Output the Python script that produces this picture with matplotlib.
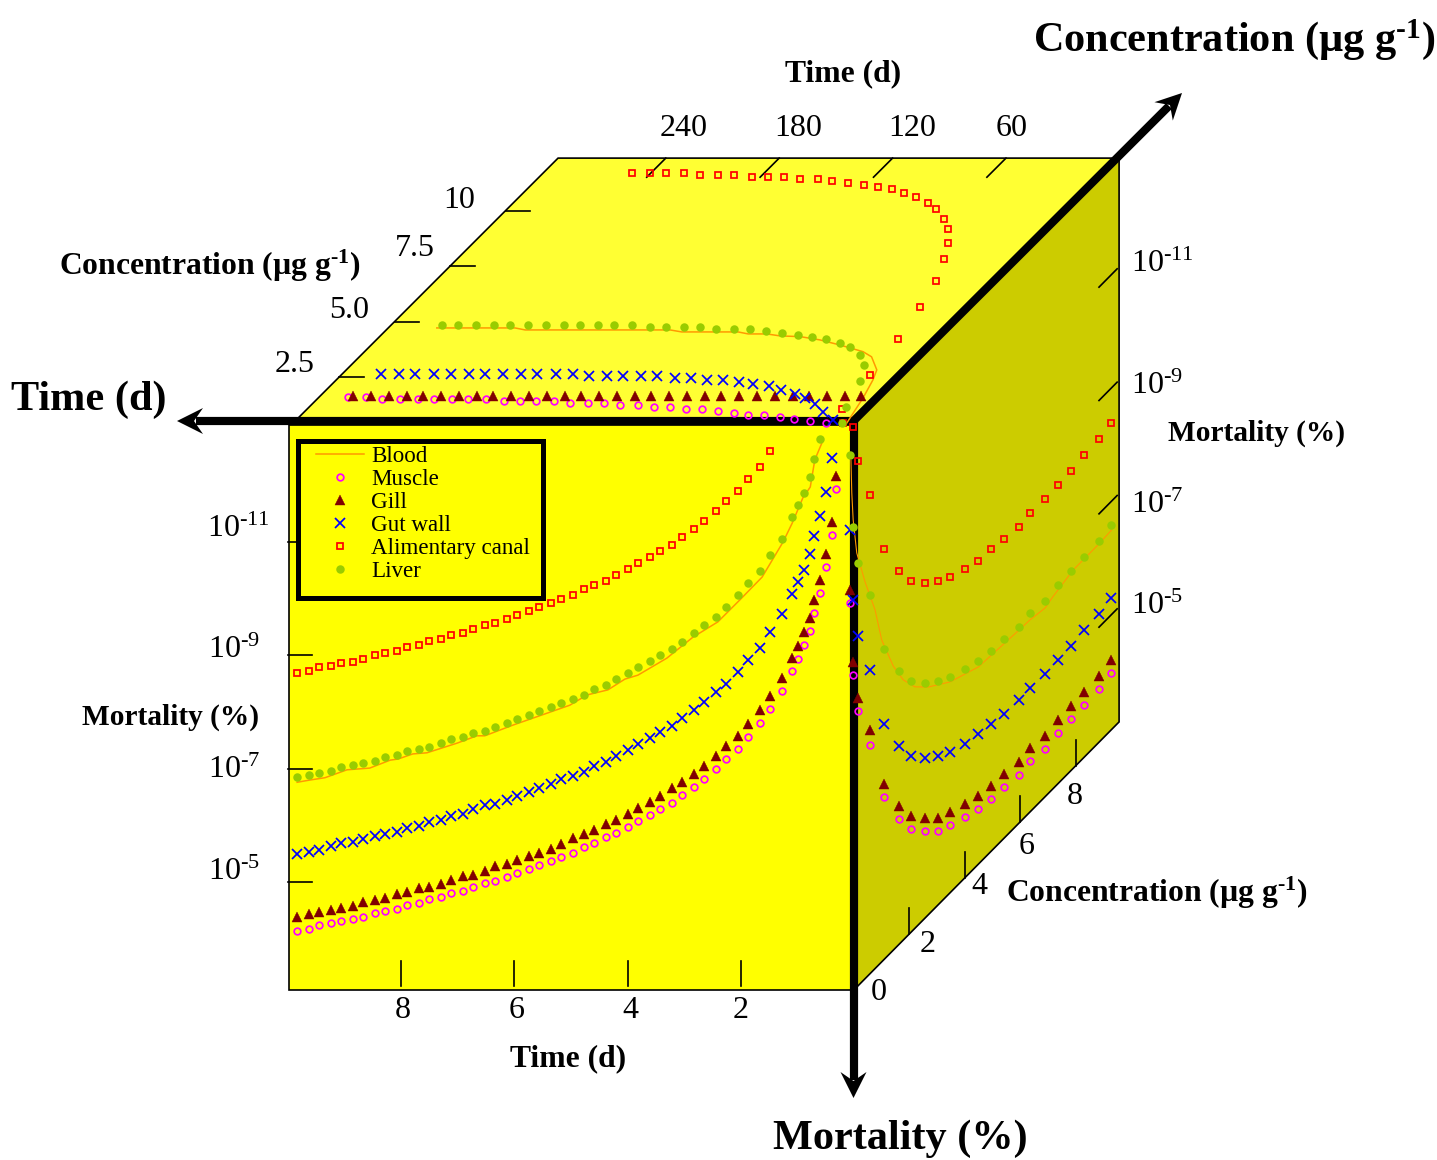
import matplotlib
matplotlib.use("Agg")
import matplotlib.pyplot as plt
from matplotlib.patches import Polygon, Rectangle
from matplotlib.transforms import Affine2D

plt.rcParams["font.family"] = ["Liberation Serif", "DejaVu Serif"]
plt.rcParams["mathtext.fontset"] = "custom"
plt.rcParams["mathtext.rm"] = "Liberation Serif"
plt.rcParams["mathtext.bf"] = "Liberation Serif:bold"
plt.rcParams["mathtext.default"] = "regular"

# front face: time (d) against log10 mortality
front_time = [9.83, 9.62, 9.44, 9.23, 9.06, 8.84, 8.67, 8.46, 8.28, 8.07, 7.89, 7.68, 7.50, 7.29,
              7.12, 6.90, 6.73, 6.52, 6.34, 6.13, 5.95, 5.74, 5.56, 5.35, 5.18, 4.96, 4.77, 4.59,
              4.38, 4.21, 3.99, 3.82, 3.61, 3.43, 3.22, 3.04, 2.83, 2.65, 2.44, 2.27, 2.05, 1.88,
              1.67, 1.49, 1.28, 1.10, 1.00, 0.89, 0.78, 0.71, 0.61, 0.50, 0.40, 0.33]
front_muscle = [-4.14, -4.17, -4.24, -4.28, -4.31, -4.35, -4.38, -4.45, -4.49, -4.52, -4.59, -4.63,
                -4.70, -4.73, -4.81, -4.84, -4.91, -4.98, -5.02, -5.09, -5.16, -5.23, -5.30, -5.37,
                -5.44, -5.51, -5.62, -5.69, -5.79, -5.86, -5.97, -6.08, -6.18, -6.29, -6.39, -6.54,
                -6.68, -6.82, -7.00, -7.17, -7.35, -7.56, -7.81, -8.05, -8.37, -8.72, -8.93, -9.18,
                -9.43, -9.75, -10.10, -10.56, -11.12, -11.93]
front_gill = [-4.39, -4.43, -4.47, -4.50, -4.54, -4.57, -4.64, -4.68, -4.71, -4.78, -4.82, -4.89,
              -4.92, -4.96, -5.03, -5.10, -5.13, -5.20, -5.28, -5.31, -5.38, -5.45, -5.52, -5.59,
              -5.67, -5.77, -5.85, -5.92, -6.02, -6.09, -6.20, -6.31, -6.41, -6.52, -6.66, -6.76,
              -6.91, -7.05, -7.22, -7.40, -7.58, -7.79, -8.04, -8.28, -8.60, -8.95, -9.16, -9.41,
              -9.66, -9.98, -10.33, -10.79, -11.35, -12.16]
front_gut = [-5.50, -5.53, -5.57, -5.64, -5.68, -5.71, -5.75, -5.82, -5.85, -5.89, -5.96, -5.99,
             -6.06, -6.10, -6.17, -6.20, -6.28, -6.35, -6.38, -6.45, -6.52, -6.59, -6.66, -6.73,
             -6.81, -6.87, -6.94, -7.05, -7.12, -7.22, -7.33, -7.44, -7.54, -7.65, -7.75, -7.89,
             -8.04, -8.18, -8.35, -8.49, -8.71, -8.92, -9.13, -9.41, -9.73, -10.08, -10.29, -10.51,
             -10.79, -11.11, -11.46, -11.88, -12.48]
front_canal = [-8.68, -8.72, -8.79, -8.82, -8.86, -8.89, -8.94, -9.00, -9.04, -9.08, -9.15, -9.18,
               -9.25, -9.29, -9.36, -9.39, -9.46, -9.54, -9.57, -9.64, -9.71, -9.78, -9.85, -9.92,
               -9.99, -10.06, -10.17, -10.24, -10.31, -10.42, -10.52, -10.63, -10.73, -10.84,
               -10.95, -11.09, -11.23, -11.37, -11.55, -11.72, -11.90, -12.11, -12.32, -12.61]
front_liver = [-6.85, -6.89, -6.92, -6.96, -7.03, -7.06, -7.10, -7.13, -7.20, -7.24, -7.31, -7.34,
               -7.38, -7.45, -7.52, -7.56, -7.63, -7.66, -7.73, -7.80, -7.87, -7.95, -8.02, -8.09,
               -8.16, -8.23, -8.30, -8.41, -8.48, -8.58, -8.69, -8.79, -8.90, -9.01, -9.11, -9.23,
               -9.39, -9.54, -9.68, -9.85, -10.06, -10.28, -10.49, -10.77, -11.05, -11.44, -11.65,
               -11.86, -12.14, -12.46, -12.81]
front_blood_time = [9.83, 9.60, 9.34, 8.95, 8.55, 8.19, 8.05, 7.79, 7.54, 7.01, 6.66, 6.52, 6.02,
                    5.02, 4.72, 4.35, 4.05, 3.82, 3.31, 2.85, 2.41, 2.02, 1.63, 1.26, 1.10, 0.91,
                    0.78, 0.70, 0.57]
front_blood = [-6.76, -6.80, -6.84, -6.98, -7.01, -7.15, -7.17, -7.26, -7.28, -7.45, -7.58, -7.58,
               -7.77, -8.12, -8.30, -8.39, -8.58, -8.65, -8.95, -9.32, -9.59, -9.98, -10.38,
               -11.00, -11.33, -11.78, -11.97, -12.45, -12.76]

# right face: concentration against log10 mortality
right_conc = [-0.13, -0.05, 0.16, 0.59, 1.10, 1.61, 2.04, 2.55, 3.05, 3.48, 3.99, 4.49, 4.93, 5.43,
              5.94, 6.37, 6.88, 7.38, 7.82, 8.32, 8.83, 9.26]
right_muscle = [-9.81, -8.50, -7.76, -6.95, -5.78, -5.14, -4.75, -4.46, -4.22, -4.11, -4.00, -3.89,
                -3.85, -3.82, -3.78, -3.81, -3.77, -3.81, -3.84, -3.84, -3.87, -3.94]
right_gill = [-10.04, -8.73, -7.99, -7.21, -6.01, -5.37, -4.98, -4.69, -4.45, -4.34, -4.23, -4.12,
              -4.08, -4.05, -4.01, -4.04, -4.00, -4.04, -4.07, -4.07, -4.10, -4.17]
right_gut = [-11.10, -9.82, -9.09, -8.27, -7.07, -6.43, -6.04, -5.75, -5.54, -5.40, -5.29, -5.22,
             -5.18, -5.11, -5.10, -5.10, -5.09, -5.09, -5.12, -5.16, -5.19, -5.26]
right_canal = [-12.88, -12.17, -11.36, -10.16, -9.52, -9.13, -8.84, -8.63, -8.49, -8.38, -8.27,
               -8.26, -8.19, -8.15, -8.19, -8.18, -8.18, -8.21, -8.25, -8.28, -8.35]
right_liver = [-12.42, -11.11, -10.37, -9.60, -8.39, -7.75, -7.36, -7.08, -6.86, -6.72, -6.61, -6.50,
               -6.46, -6.43, -6.39, -6.42, -6.38, -6.42, -6.45, -6.45, -6.48, -6.55]
right_blood_conc = [-0.11, -0.08, -0.03, 0.10, 0.40, 0.76, 1.00, 1.42, 1.78, 2.20, 2.68, 3.47, 4.49,
                    5.87, 6.35, 6.90, 7.18, 7.91, 8.81, 9.30]
right_blood = [-12.32, -11.73, -11.23, -10.58, -9.92, -9.25, -8.60, -7.93, -7.51, -7.18, -6.94,
               -6.64, -6.40, -6.33, -6.31, -6.25, -6.31, -6.42, -6.42, -6.44]

# top face: time (d) against concentration
top_muscle_time = [281.7, 272.2, 262.7, 253.2, 243.7, 235.2, 225.7, 217.2, 207.7, 197.1, 188.6, 180.2,
                   170.6, 161.1, 151.6, 143.1, 133.6, 124.1, 114.6, 106.1, 96.6, 88.1, 78.6, 69.0,
                   60.6, 52.1, 42.6, 34.1, 24.6, 15.1]
top_muscle = [1.60, 1.60, 1.51, 1.51, 1.51, 1.51, 1.51, 1.51, 1.51, 1.42, 1.42, 1.42, 1.42, 1.33, 1.33,
              1.33, 1.24, 1.24, 1.15, 1.15, 1.06, 1.06, 0.97, 0.88, 0.79, 0.79, 0.70, 0.61, 0.52, 0.43]
top_gill_time = [279.5, 269.9, 260.4, 250.9, 242.4, 232.9, 223.4, 213.9, 205.4, 195.9, 186.3, 176.8,
                 167.3, 158.8, 149.3, 139.8, 130.3, 121.8, 112.3, 102.8, 93.2, 84.8, 75.2, 65.7,
                 56.2, 46.7, 38.2, 28.7, 19.2, 10.7]
top_gill = [1.64] * 30
top_gut_time = [276.5, 266.9, 258.5, 248.6, 239.4, 229.9, 221.4, 211.9, 202.4, 193.9, 184.0, 174.7,
                165.2, 155.8, 147.4, 137.8, 129.4, 118.8, 110.3, 100.8, 92.3, 82.8, 74.3, 64.8,
                56.3, 46.8, 39.4, 31.0, 22.5, 13.0]
top_gut = [2.64, 2.64, 2.64, 2.64, 2.64, 2.64, 2.64, 2.64, 2.64, 2.64, 2.64, 2.64, 2.55, 2.55, 2.55,
           2.55, 2.55, 2.45, 2.45, 2.36, 2.36, 2.27, 2.18, 2.09, 1.91, 1.73, 1.55, 1.28, 0.92, 0.56]
top_canal_time = [250.0, 240.5, 232.0, 222.5, 213.0, 203.4, 195.0, 184.4, 175.9, 167.5, 157.9, 148.4,
                  139.9, 130.4, 120.9, 112.4, 104.0, 95.5, 87.0, 77.5, 70.1, 60.6, 53.2, 45.8,
                  39.4, 32.0, 26.7, 21.4, 17.2, 14.0, 6.1]
top_canal = [11.69, 11.69, 11.69, 11.69, 11.60, 11.60, 11.60, 11.51, 11.51, 11.51, 11.42, 11.42, 11.33,
             11.24, 11.15, 11.06, 10.97, 10.79, 10.61, 10.34, 10.07, 9.62, 9.17, 8.54, 7.82, 6.82,
             5.65, 4.21, 2.59, 1.06, 0.43]
top_liver_time = [269.9, 261.5, 252.0, 242.6, 234.0, 224.4, 214.9, 205.4, 196.9, 187.4, 178.9, 169.4,
                  158.8, 150.4, 140.8, 132.4, 122.9, 113.3, 104.9, 95.3, 85.8, 76.3, 67.8, 59.4,
                  49.8, 42.4, 32.9, 25.5, 19.2, 12.8, 6.5]
top_liver = [4.84, 4.84, 4.84, 4.84, 4.84, 4.84, 4.84, 4.84, 4.84, 4.84, 4.84, 4.84, 4.75, 4.75, 4.75,
             4.75, 4.66, 4.66, 4.66, 4.57, 4.48, 4.39, 4.30, 4.21, 4.03, 3.85, 3.49, 3.04, 2.32, 1.15,
             0.43]
top_blood_time = [271.3, 229.9, 223.5, 183.9, 146.8, 139.6, 109.8, 103.4, 93.5, 85.4, 74.5, 62.2, 48.9,
                  33.2, 26.0, 16.3, 13.0, 8.7, 4.1]
top_blood = [4.71, 4.71, 4.62, 4.62, 4.62, 4.53, 4.53, 4.44, 4.44, 4.35, 4.32, 4.17, 3.94, 3.64, 3.41,
             2.82, 2.36, 1.55, 0.43]

front_time_ticks = [8, 6, 4, 2]
front_mort_ticks = [-11, -9, -7, -5]
right_conc_ticks = [2, 4, 6, 8]
right_mort_ticks = [-11, -9, -7, -5]
top_time_ticks = [240, 180, 120, 60]
top_conc_ticks = [2.5, 5.0, 7.5, 10]

fig = plt.figure(figsize=(14.37, 11.6), dpi=100)
ax = fig.add_axes([0, 0, 1, 1])
ax.set_axis_off()

# each cube face has its own scale into the page
front = Affine2D.from_values(-56.7, 0, 0, 56.67, 854.5, 1165.35) + ax.transData
top = Affine2D.from_values(-1.89, 0, 22.2, -22.2, 845, 432.5) + ax.transData
right = Affine2D.from_values(27.7, -28, 0, 56.67, 854, 1155.35) + ax.transData

edge = 1.2
ax.add_patch(Polygon([(297, 0.56), (297, 12.36), (0, 12.36), (0.8, 0.56)], transform=top,
                     facecolor="#FFFF33", edgecolor="black", lw=edge, zorder=1))
ax.add_patch(Polygon([(0, -12.96), (9.57, -12.87), (9.57, -2.92), (0, -2.92)], transform=right,
                     facecolor="#CCCC00", edgecolor="black", lw=edge, zorder=1))
ax.add_patch(Polygon([(9.97, -13.06), (0, -13.06), (0, -3.09), (9.97, -3.09)], transform=front,
                     facecolor="#FFFF00", edgecolor="black", lw=edge, zorder=1))

# ticks
tick_lw = 1.2
for t in front_time_ticks:
    ax.plot([t, t], [-3.6, -3.16], color="black", lw=tick_lw, transform=front, zorder=2)
for e in front_mort_ticks:
    ax.plot([10.0, 9.56], [e, e], color="black", lw=tick_lw, transform=front, zorder=2)
for c in right_conc_ticks:
    ax.plot([c, c], [-2.92, -3.38], color="black", lw=tick_lw, transform=right, zorder=2)
for e in right_mort_ticks:
    ax.plot([8.845, 9.5], [e + 0.05, e + 0.05], color="black", lw=tick_lw, transform=right, zorder=2)
for t in top_time_ticks:
    ax.plot([t, t], [12.36, 11.5], color="black", lw=tick_lw, transform=top, zorder=2)
for c in top_conc_ticks:
    ax.plot([297, 284], [c, c], color="black", lw=tick_lw, transform=top, zorder=2)

# thick cube axes, with a swept arrow head rotated onto each tip
head = [(0, 0), (-26, 13), (-17, 0), (-26, -13)]
for tip, angle, neck in [((177, 421), 180, (196, 421)), ((1182, 93), -45, (1169, 106)),
                         ((853.5, 1098), 90, (853.5, 1080))]:
    ax.plot([853.5, neck[0]], [421, neck[1]], color="black", lw=5.9, solid_capstyle="butt", zorder=2.5)
    ax.add_patch(Polygon(head, facecolor="black", edgecolor="none", zorder=2.5,
                         transform=Affine2D().rotate_deg(angle).translate(*tip) + ax.transData))

# series styles
muscle_style = dict(ls="none", marker="o", ms=4.8, mfc="none", mec="#FF00FF", mew=1.25)
gill_style = dict(ls="none", marker="^", ms=7.6, mfc="#800000", mec="#800000", mew=0.3)
gut_style = dict(ls="none", marker="x", ms=7.0, mec="#0000FF", mew=1.25)
canal_style = dict(ls="none", marker="s", ms=4.7, mfc="none", mec="#FF0000", mew=1.25)
liver_style = dict(ls="none", marker="o", ms=6.1, mfc="#99CC00", mec="#99CC00", mew=0)
blood_color = "#FF9900"

ax.plot(top_blood_time, top_blood, color=blood_color, lw=1.1, transform=top, zorder=3)
ax.plot(top_muscle_time, top_muscle, transform=top, zorder=3, **muscle_style)
ax.plot(top_gill_time, top_gill, transform=top, zorder=3, **gill_style)
ax.plot(top_gut_time, top_gut, transform=top, zorder=3, **gut_style)
ax.plot(top_canal_time, top_canal, transform=top, zorder=3, **canal_style)
ax.plot(top_liver_time, top_liver, transform=top, zorder=3, **liver_style)

ax.plot(right_blood_conc, right_blood, color=blood_color, lw=0.8, transform=right, zorder=3)
ax.plot(right_conc, right_muscle, transform=right, zorder=3, **muscle_style)
ax.plot(right_conc, right_gill, transform=right, zorder=3, **gill_style)
ax.plot(right_conc, right_gut, transform=right, zorder=3, **gut_style)
ax.plot(right_conc[1:], right_canal, transform=right, zorder=3, **canal_style)
ax.plot(right_conc, right_liver, transform=right, zorder=3, **liver_style)

blood_line, = ax.plot(front_blood_time, front_blood, color=blood_color, lw=1.1, transform=front,
                      zorder=3, label="Blood")
muscle_pts, = ax.plot(front_time, front_muscle, transform=front, zorder=3, label="Muscle", **muscle_style)
gill_pts, = ax.plot(front_time, front_gill, transform=front, zorder=3, label="Gill", **gill_style)
gut_pts, = ax.plot(front_time[:len(front_gut)], front_gut, transform=front, zorder=3,
                   label="Gut wall", **gut_style)
canal_pts, = ax.plot(front_time[:len(front_canal)], front_canal, transform=front, zorder=3,
                     label="Alimentary canal", **canal_style)
liver_pts, = ax.plot(front_time[:len(front_liver)], front_liver, transform=front, zorder=3,
                     label="Liver", **liver_style)

ax.set_xlim(0, 1437)
ax.set_ylim(1160, 0)

# the box is taller than the rows need, so it is drawn by hand
ax.add_patch(Rectangle((297.5, 440.5), 245, 157, facecolor="#FFFF00", edgecolor="black", lw=3.6, zorder=3.5))
leg = ax.legend(handles=[blood_line, muscle_pts, gill_pts, gut_pts, canal_pts, liver_pts],
                loc="upper left", bbox_to_anchor=(316, 446), bbox_transform=ax.transData,
                fontsize=16.6, frameon=False, borderaxespad=0, borderpad=0, labelspacing=0.08,
                handlelength=2.1, handletextpad=0.3, numpoints=1)
leg.set_zorder(4)

big = 30.4
small_bold = 22.8
mort_bold = 21.2
num = 23


def label(x, y, s, size=num, weight="normal"):
    ax.text(x, y + 3, s, fontsize=size, fontweight=weight, ha="center", va="center", zorder=5)


conc_label = "Concentration (µg g$^{\\mathbf{\u20101}}$)"
label(89, 397, "Time (d)", big, "bold")
label(1234, 37, conc_label, big, "bold")
label(900, 1136, "Mortality (%)", big, "bold")
label(843, 71, "Time (d)", small_bold, "bold")
label(210, 263, conc_label, small_bold, "bold")
label(171, 714, "Mortality (%)", mort_bold, "bold")
label(568, 1056, "Time (d)", small_bold, "bold")
label(1157, 890, conc_label, small_bold, "bold")
label(1257, 430, "Mortality (%)", mort_bold, "bold")

for s, x in zip(top_time_ticks, [684, 798, 912, 1012]):
    label(x, 126, str(s))
for s, x, y in zip(top_conc_ticks, [295, 349, 415, 459], [362, 307, 246, 198]):
    label(x, y, str(s))
for s, x in zip(front_time_ticks, [403, 517, 630, 741]):
    label(x, 1008, str(s))
for s, x, y in zip(front_mort_ticks, [238, 234, 234, 234], [526, 647, 767, 869]):
    label(x, y, f"10$^{{\\text{{{s}}}}}$")
for s, x, y in zip(right_mort_ticks, [1162, 1157, 1157, 1157], [261, 383, 502, 603]):
    label(x, y, f"10$^{{\\text{{{s}}}}}$")
for s, x, y in zip([0] + right_conc_ticks, [879, 928, 979, 1027, 1075], [990, 942, 884, 843, 794]):
    label(x, y, str(s))

fig.savefig("out.png", dpi=100)
